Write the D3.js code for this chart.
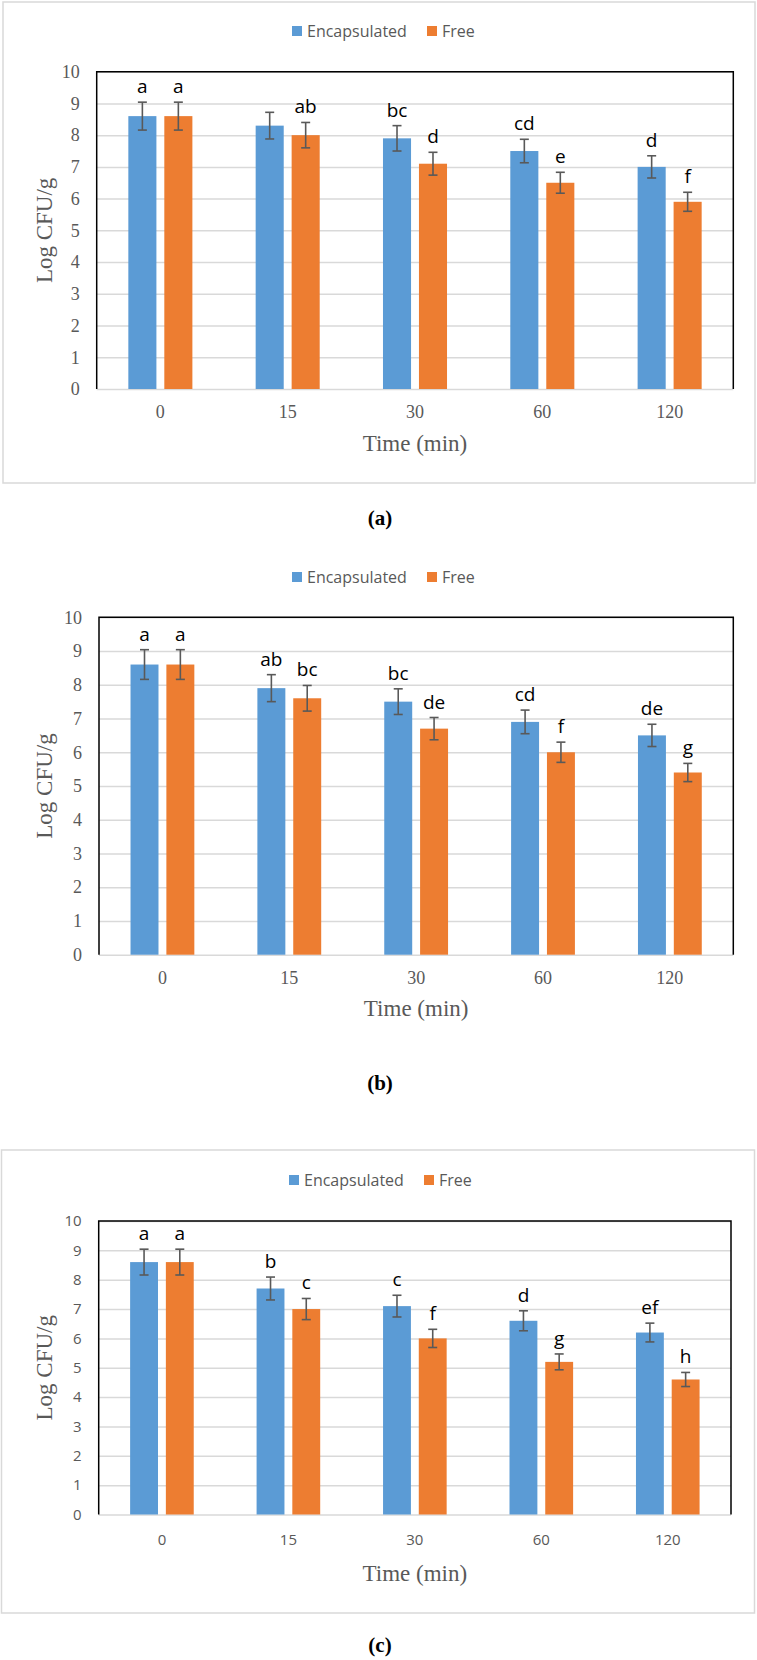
<!DOCTYPE html>
<html>
<head>
<meta charset="utf-8">
<script src="https://cdn.jsdelivr.net/npm/d3@7"></script>
<style>
  body { margin: 0; background: #fff; }
</style>
</head>
<body>
<svg id="chart" width="757" height="1660"></svg>
<script>
const times = ["0", "15", "30", "60", "120"];
const seriesNames = ["Encapsulated", "Free"];
const yTicks = [0, 1, 2, 3, 4, 5, 6, 7, 8, 9, 10];

// (a)
const encapA = [8.6, 8.3, 7.9, 7.5, 7.0];
const freeA = [8.6, 8.0, 7.1, 6.5, 5.9];
const errEncapA = [0.44, 0.42, 0.40, 0.37, 0.35];
const errFreeA = [0.44, 0.40, 0.36, 0.33, 0.30];
const lettersEncapA = ["a", "", "bc", "cd", "d"];
const lettersFreeA = ["a", "ab", "d", "e", "f"];

// (b)
const encapB = [8.6, 7.9, 7.5, 6.9, 6.5];
const freeB = [8.6, 7.6, 6.7, 6.0, 5.4];
const errEncapB = [0.44, 0.40, 0.38, 0.35, 0.33];
const errFreeB = [0.44, 0.38, 0.33, 0.30, 0.27];
const lettersEncapB = ["a", "ab", "bc", "cd", "de"];
const lettersFreeB = ["a", "bc", "de", "f", "g"];

// (c)
const encapC = [8.6, 7.7, 7.1, 6.6, 6.2];
const freeC = [8.6, 7.0, 6.0, 5.2, 4.6];
const errEncapC = [0.44, 0.39, 0.37, 0.34, 0.32];
const errFreeC = [0.44, 0.36, 0.31, 0.27, 0.24];
const lettersEncapC = ["a", "b", "c", "d", "ef"];
const lettersFreeC = ["a", "c", "f", "g", "h"];

const colors = { "Encapsulated": "#5B9BD5", "Free": "#ED7D31" };
const SERIF = "'Liberation Serif', 'Times New Roman', serif";
const SANS = "'Open Sans', sans-serif";

function drawPanel(svg, values, layout) {
    const g = svg.append("g");

    // outer chart frame
    if (layout.frame) {
        g.append("rect")
            .attr("x", layout.frame[0])
            .attr("y", layout.frame[1])
            .attr("width", layout.frame[2])
            .attr("height", layout.frame[3])
            .attr("fill", "none")
            .attr("stroke", "#D9D9D9")
            .attr("stroke-width", 1.5);
    }

    const x = d3.scaleBand().domain(times).range([layout.left, layout.right]).padding(0);
    const y = d3.scaleLinear().domain([0, 10]).range([layout.bottom, layout.top]);
    const groupW = x.bandwidth() * 0.503;
    const xInner = d3.scaleBand().domain(seriesNames).range([-groupW / 2, groupW / 2]).paddingInner(0.22);

    // gridlines + y tick labels
    const yAxis = g.append("g")
        .attr("transform", `translate(${layout.left},0)`)
        .call(d3.axisLeft(y).tickValues(yTicks).tickFormat(d3.format("d"))
            .tickSize(-(layout.right - layout.left)).tickPadding(17));
    yAxis.select(".domain").remove();
    yAxis.selectAll("line").attr("stroke", "#D9D9D9").attr("stroke-width", 1.5);
    yAxis.selectAll("text")
        .style("font-family", layout.tickFont)
        .style("font-size", layout.tickSize + "px")
        .style("fill", "#595959");

    // x tick labels
    const xAxis = g.append("g")
        .attr("transform", `translate(0,${layout.bottom})`)
        .call(d3.axisBottom(x).tickSize(0));
    xAxis.select(".domain").remove();
    xAxis.selectAll("text")
        .attr("y", layout.tickOffset).attr("dy", "0.35em")
        .style("font-family", layout.tickFont)
        .style("font-size", layout.tickSize + "px")
        .style("fill", "#595959");

    // plot frame: black top / left / right
    g.append("path")
        .attr("d", `M${layout.left},${layout.bottom}V${layout.top}H${layout.right}V${layout.bottom}`)
        .attr("fill", "none")
        .attr("stroke", "#000")
        .attr("stroke-width", 1.5);

    const rows = [];
    times.forEach(function(t, i) {
        seriesNames.forEach(function(s, j) {
            rows.push({
                time: t, series: s,
                value: values.means[j][i],
                err: values.errs[j][i],
                letter: values.letters[j][i]
            });
        });
    });

    function cx(d) { return x(d.time) + x.bandwidth() / 2 + xInner(d.series) + xInner.bandwidth() / 2; }

    g.selectAll(".bar")
        .data(rows)
        .enter().append("rect")
        .attr("class", "bar")
        .attr("x", function(d) { return x(d.time) + x.bandwidth() / 2 + xInner(d.series); })
        .attr("width", xInner.bandwidth())
        .attr("y", function(d) { return y(d.value); })
        .attr("height", function(d) { return y(0) - y(d.value); })
        .attr("fill", function(d) { return colors[d.series]; });

    // error bars
    const eb = g.selectAll(".err")
        .data(rows)
        .enter().append("g")
        .attr("class", "err")
        .attr("stroke", "#595959")
        .attr("stroke-width", 1.6);
    eb.append("line")
        .attr("x1", cx).attr("x2", cx)
        .attr("y1", function(d) { return y(d.value + d.err); })
        .attr("y2", function(d) { return y(d.value - d.err); });
    eb.append("line")
        .attr("x1", function(d) { return cx(d) - 4.5; }).attr("x2", function(d) { return cx(d) + 4.5; })
        .attr("y1", function(d) { return y(d.value + d.err); })
        .attr("y2", function(d) { return y(d.value + d.err); });
    eb.append("line")
        .attr("x1", function(d) { return cx(d) - 4.5; }).attr("x2", function(d) { return cx(d) + 4.5; })
        .attr("y1", function(d) { return y(d.value - d.err); })
        .attr("y2", function(d) { return y(d.value - d.err); });

    // significance letters
    g.selectAll(".letter")
        .data(rows.filter(function(d) { return d.letter != ""; }))
        .enter().append("text")
        .attr("class", "letter")
        .attr("text-anchor", "middle")
        .attr("x", cx)
        .attr("y", function(d) { return y(d.value + d.err) - 9; })
        .style("font-family", SANS)
        .style("font-size", "19px")
        .style("fill", "#000")
        .text(function(d) { return d.letter; });

    // legend
    const legend = g.selectAll(".legend")
        .data(seriesNames)
        .enter().append("g")
        .attr("class", "legend")
        .attr("transform", function(d, i) { return `translate(${layout.legendX + i * 135}, ${layout.legendY})`; });
    legend.append("rect")
        .attr("x", 0)
        .attr("y", -5)
        .attr("width", 10)
        .attr("height", 10)
        .attr("fill", function(d) { return colors[d]; });
    legend.append("text")
        .attr("x", 15)
        .attr("y", 0)
        .attr("dy", "0.35em")
        .style("font-family", SANS)
        .style("font-size", "16px")
        .style("fill", "#595959")
        .text(function(d) { return d; });

    // axis titles
    g.append("text")
        .attr("text-anchor", "middle")
        .attr("transform", `translate(44, ${(layout.top + layout.bottom) / 2}) rotate(-90)`)
        .attr("dy", "0.35em")
        .style("font-family", SERIF)
        .style("font-size", "23px")
        .style("fill", "#595959")
        .text("Log CFU/g");
    g.append("text")
        .attr("text-anchor", "middle")
        .attr("x", (layout.left + layout.right) / 2)
        .attr("y", layout.titleY)
        .attr("dy", "0.35em")
        .style("font-family", SERIF)
        .style("font-size", "23px")
        .style("fill", "#595959")
        .text("Time (min)");

    // panel caption
    g.append("text")
        .attr("text-anchor", "middle")
        .attr("x", 380)
        .attr("y", layout.labelY)
        .attr("dy", "0.35em")
        .style("font-family", SERIF)
        .style("font-size", "21px")
        .style("font-weight", "bold")
        .style("fill", "#000")
        .text(layout.label);
}

const svg = d3.select("#chart");

drawPanel(svg,
    { means: [encapA, freeA], errs: [errEncapA, errFreeA], letters: [lettersEncapA, lettersFreeA] },
    { frame: [3, 2, 752, 481], top: 71.7, bottom: 389, left: 96.7, right: 733.3,
      tickFont: SERIF, tickSize: 18, tickOffset: 23, titleY: 443, legendX: 292, legendY: 31,
      labelY: 518, label: "(a)" });

drawPanel(svg,
    { means: [encapB, freeB], errs: [errEncapB, errFreeB], letters: [lettersEncapB, lettersFreeB] },
    { frame: null, top: 617.3, bottom: 954.7, left: 99, right: 733.3,
      tickFont: SERIF, tickSize: 18, tickOffset: 23, titleY: 1008, legendX: 292, legendY: 577,
      labelY: 1083, label: "(b)" });

drawPanel(svg,
    { means: [encapC, freeC], errs: [errEncapC, errFreeC], letters: [lettersEncapC, lettersFreeC] },
    { frame: [1.5, 1150, 753, 463], top: 1221, bottom: 1514.5, left: 98.7, right: 731,
      tickFont: SANS, tickSize: 15, tickOffset: 25, titleY: 1573, legendX: 289, legendY: 1180,
      labelY: 1645, label: "(c)" });
</script>
</body>
</html>
